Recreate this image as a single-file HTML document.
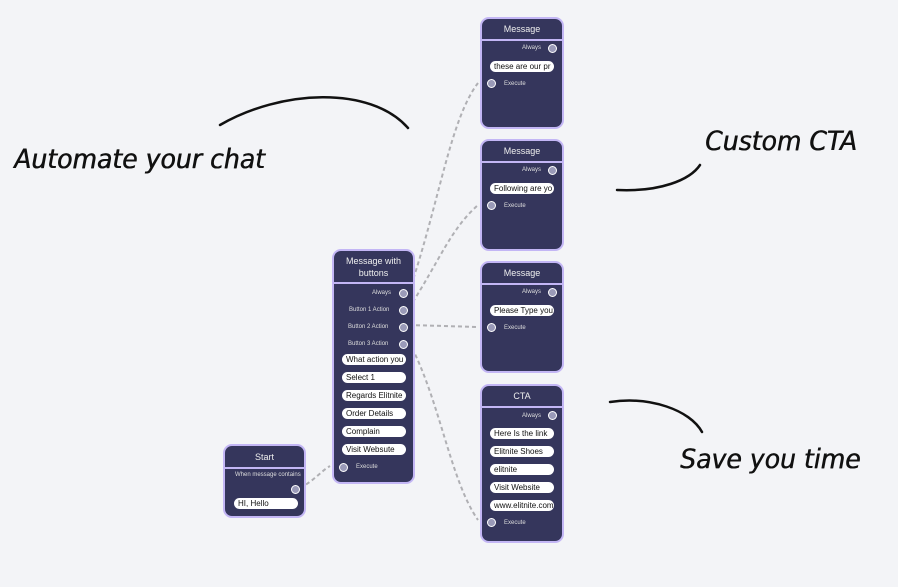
<!DOCTYPE html>
<html><head><style>
body{margin:0;width:898px;height:587px;background:#f3f4f7;position:relative;overflow:hidden;font-family:"Liberation Sans",sans-serif}
.n{position:absolute;background:#35365c;border:2px solid #c3b6f5;border-radius:9px;box-sizing:border-box;color:#fff}
.h{text-align:center;font-size:9px;border-bottom:2px solid #c3b6f5;color:#eee;line-height:12px}
.r{position:absolute;font-size:6px;color:#ddd}
.p{position:absolute;width:9px;height:9px;border-radius:50%;background:#9a9ab8;border:1px solid #fff;box-sizing:border-box}
.t{position:absolute;height:11px;background:#fff;border-radius:6px;color:#111;font-size:8px;line-height:11px;padding-left:4px;box-sizing:border-box;overflow:hidden;white-space:nowrap}
.hw{position:absolute;font-family:"DejaVu Sans",sans-serif;font-style:italic;color:#111;font-size:27px;white-space:nowrap;transform-origin:0 0;transform:scaleX(0.93);text-shadow:0.6px 0 0 #111}
</style></head><body>
<svg width="898" height="587" style="position:absolute;left:0;top:0">
<g fill="none" stroke="#b0b0b4" stroke-width="2" stroke-dasharray="4,3">
<path d="M409 292 C440 200 450 120 478 83"/>
<path d="M409 308 C440 260 450 230 478 205"/>
<path d="M409 325 L478 327"/>
<path d="M409 342 C440 400 450 480 478 520"/>
<path d="M300 488 C315 480 320 472 330 466"/>
</g>
<g fill="none" stroke="#111" stroke-width="2.5" stroke-linecap="round">
<path d="M220 125 C280 90 370 85 408 128"/>
<path d="M617 190 C660 192 690 180 700 165"/>
<path d="M610 402 C650 396 690 410 702 432"/>
</g>
</svg>
<div class="hw" style="left:14px;top:144px">Automate your chat</div>
<div class="hw" style="left:705px;top:126px">Custom CTA</div>
<div class="hw" style="left:680px;top:444px">Save you time</div>

<div class="n" style="left:223px;top:444px;width:83px;height:74px">
<div class="h" style="padding:5px 0 4px">Start</div>
<div class="r" style="left:10px;top:26px">When message contains</div>
<div class="p" style="left:66px;top:39px"></div>
<div class="t" style="left:9px;top:52px;width:64px">HI, Hello</div>
</div>

<div class="n" style="left:332px;top:249px;width:83px;height:235px">
<div class="h" style="padding:4px 0 3px">Message with<br>buttons</div>
<div class="r" style="left:38px;top:39px">Always</div><div class="p" style="left:65px;top:38px"></div>
<div class="r" style="left:15px;top:56px">Button 1 Action</div><div class="p" style="left:65px;top:55px"></div>
<div class="r" style="left:14px;top:73px">Button 2 Action</div><div class="p" style="left:65px;top:72px"></div>
<div class="r" style="left:14px;top:90px">Button 3 Action</div><div class="p" style="left:65px;top:89px"></div>
<div class="t" style="left:8px;top:103px;width:64px">What action you</div>
<div class="t" style="left:8px;top:121px;width:64px">Select 1</div>
<div class="t" style="left:8px;top:139px;width:64px">Regards Elitnite</div>
<div class="t" style="left:8px;top:157px;width:64px">Order Details</div>
<div class="t" style="left:8px;top:175px;width:64px">Complain</div>
<div class="t" style="left:8px;top:193px;width:64px">Visit Websute</div>
<div class="p" style="left:5px;top:212px"></div><div class="r" style="left:22px;top:213px">Execute</div>
</div>

<div class="n" style="left:480px;top:17px;width:84px;height:112px">
<div class="h" style="padding:4px 0 4px">Message</div>
<div class="r" style="left:40px;top:26px">Always</div><div class="p" style="left:66px;top:25px"></div>
<div class="t" style="left:8px;top:42px;width:64px">these are our pr</div>
<div class="p" style="left:5px;top:60px"></div><div class="r" style="left:22px;top:62px">Execute</div>
</div>
<div class="n" style="left:480px;top:139px;width:84px;height:112px">
<div class="h" style="padding:4px 0 4px">Message</div>
<div class="r" style="left:40px;top:26px">Always</div><div class="p" style="left:66px;top:25px"></div>
<div class="t" style="left:8px;top:42px;width:64px">Following are yo</div>
<div class="p" style="left:5px;top:60px"></div><div class="r" style="left:22px;top:62px">Execute</div>
</div>
<div class="n" style="left:480px;top:261px;width:84px;height:112px">
<div class="h" style="padding:4px 0 4px">Message</div>
<div class="r" style="left:40px;top:26px">Always</div><div class="p" style="left:66px;top:25px"></div>
<div class="t" style="left:8px;top:42px;width:64px">Please Type you</div>
<div class="p" style="left:5px;top:60px"></div><div class="r" style="left:22px;top:62px">Execute</div>
</div>
<div class="n" style="left:480px;top:384px;width:84px;height:159px">
<div class="h" style="padding:4px 0 4px">CTA</div>
<div class="r" style="left:40px;top:27px">Always</div><div class="p" style="left:66px;top:25px"></div>
<div class="t" style="left:8px;top:42px;width:64px">Here Is the link</div>
<div class="t" style="left:8px;top:60px;width:64px">Elitnite Shoes</div>
<div class="t" style="left:8px;top:78px;width:64px">elitnite</div>
<div class="t" style="left:8px;top:96px;width:64px">Visit Website</div>
<div class="t" style="left:8px;top:114px;width:64px">www.elitnite.com</div>
<div class="p" style="left:5px;top:132px"></div><div class="r" style="left:22px;top:134px">Execute</div>
</div>
</body></html>
